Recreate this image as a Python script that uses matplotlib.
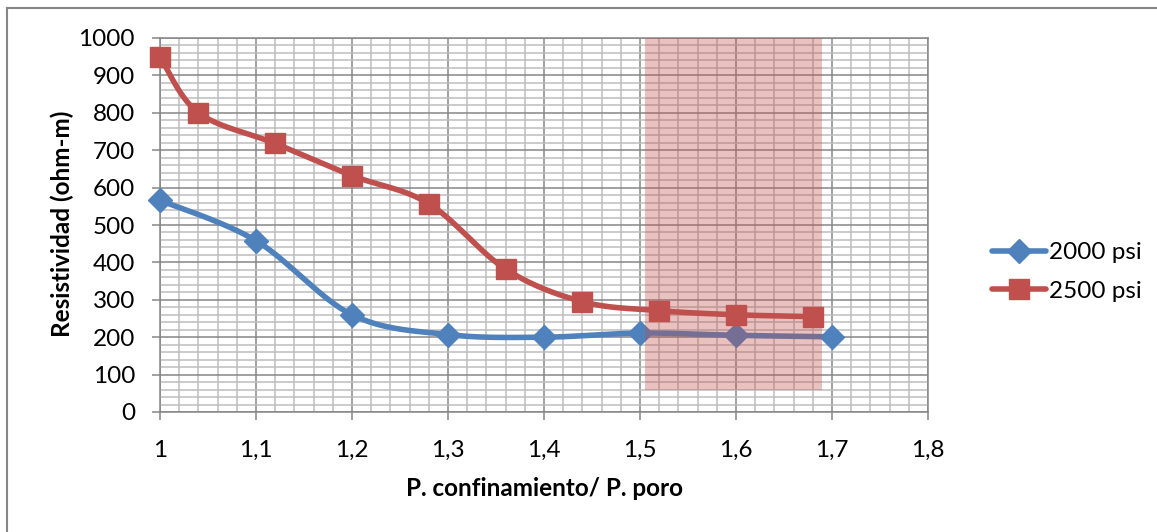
import numpy as np
import matplotlib
matplotlib.use("Agg")
import matplotlib.pyplot as plt
from matplotlib.lines import Line2D
from matplotlib.patches import Rectangle
from matplotlib.ticker import MultipleLocator, FuncFormatter

# Data: resistivity vs. confining/pore pressure ratio
x_2000 = [1.0, 1.1, 1.2, 1.3, 1.4, 1.5, 1.6, 1.7]
res_2000 = [566, 458, 260, 207, 200, 211, 205, 201]

x_2500 = [1.0, 1.04, 1.12, 1.2, 1.28, 1.36, 1.44, 1.52, 1.6, 1.68]
res_2500 = [950, 800, 718, 632, 557, 382, 295, 271, 260, 255]

series_labels = ["2000 psi", "2500 psi"]
x_label = "P. confinamiento/ P. poro"
y_label = "Resistividad (ohm-m)"

# Highlighted zone
zone_x = (1.505, 1.69)
zone_y = (60, 1000)

BLUE = "#4F81BD"
RED = "#C0504D"
MAJOR = "#868686"
MINOR = "#BDBDBD"
FONT = ["Lato", "DejaVu Sans"]
FS = 17.5

W, H = 1157, 532
fig = plt.figure(figsize=(W / 100, H / 100), dpi=100)
plt.rcParams["font.family"] = FONT

ax = fig.add_axes([160 / W, 1 - 412 / H, (928 - 160) / W, (412 - 38) / H])
ax.set_xlim(1.0, 1.8)
ax.set_ylim(0, 1000)


def fmt_x(v, pos):
    if abs(v - round(v)) < 1e-9:
        return f"{int(round(v))}"
    return f"{v:.1f}".replace(".", ",")


ax.xaxis.set_major_locator(MultipleLocator(0.1))
ax.xaxis.set_minor_locator(MultipleLocator(0.02))
ax.yaxis.set_major_locator(MultipleLocator(100))
ax.yaxis.set_minor_locator(MultipleLocator(20))
ax.xaxis.set_major_formatter(FuncFormatter(fmt_x))
ax.yaxis.set_major_formatter(FuncFormatter(lambda v, p: f"{int(round(v))}"))

ax.grid(which="minor", color=MINOR, linewidth=1.1, zorder=0)
ax.grid(which="major", color=MAJOR, linewidth=1.1, zorder=0)
ax.set_axisbelow(True)
for s in ax.spines.values():
    s.set_color(MAJOR)
    s.set_linewidth(1.1)

ax.tick_params(axis="both", which="major", direction="out", length=6, width=1.1,
               color=MAJOR, labelsize=FS, labelcolor="black")
ax.tick_params(axis="x", which="major", pad=14)
ax.tick_params(axis="y", which="major", pad=12)
ax.tick_params(which="minor", length=0)


def smooth(xs, ys, n=40):
    """Bezier smoothing through the points, computed in display space."""
    pts = ax.transData.transform(np.column_stack([xs, ys]))
    out = [pts[0]]
    t = np.linspace(0, 1, n)[1:, None]
    for i in range(len(pts) - 1):
        p0 = pts[i - 1] if i > 0 else pts[i]
        p1, p2 = pts[i], pts[i + 1]
        p3 = pts[i + 2] if i + 2 < len(pts) else pts[i + 1]
        c1 = p1 + (p2 - p0) / 6
        c2 = p2 - (p3 - p1) / 6
        seg = (1 - t) ** 3 * p1 + 3 * (1 - t) ** 2 * t * c1 + 3 * (1 - t) * t ** 2 * c2 + t ** 3 * p2
        out.extend(seg)
    return ax.transData.inverted().transform(np.array(out))


c2000 = smooth(x_2000, res_2000)
c2500 = smooth(x_2500, res_2500)
ax.plot(c2000[:, 0], c2000[:, 1], color=BLUE, lw=4, solid_capstyle="round", zorder=3, clip_on=False)
ax.plot(x_2000, res_2000, ls="none", marker="D", ms=12, color=BLUE, zorder=4, clip_on=False)
ax.plot(c2500[:, 0], c2500[:, 1], color=RED, lw=4, solid_capstyle="round", zorder=3, clip_on=False)
ax.plot(x_2500, res_2500, ls="none", marker="s", ms=14, color=RED, zorder=4, clip_on=False)

ax.add_patch(Rectangle((zone_x[0], zone_y[0]), zone_x[1] - zone_x[0], zone_y[1] - zone_y[0],
                       facecolor=RED, alpha=0.35, edgecolor="none", zorder=5))

fig.text(544 / W, 1 - 488 / H, x_label, ha="center", va="center",
         fontsize=FS, fontweight="bold", family=FONT)
fig.text(62 / W, 1 - 224 / H, y_label, ha="center", va="center", rotation=90,
         fontsize=FS, fontweight="bold", family=FONT)

handles = [
    Line2D([], [], color=BLUE, lw=4, marker="D", ms=12, solid_capstyle="round"),
    Line2D([], [], color=RED, lw=4, marker="s", ms=14, solid_capstyle="round"),
]
fig.legend(handles, series_labels, loc="center left",
           bbox_to_anchor=(980 / W, 1 - 272 / H), frameon=False,
           prop={"family": FONT, "size": FS}, handlelength=2.2,
           handletextpad=0.15, labelspacing=0.7, borderpad=0)

# Chart frame (left and top edges)
fig.add_artist(Line2D([7 / W, 7 / W], [0, 1 - 8 / H], color=MAJOR, lw=1.5, transform=fig.transFigure))
fig.add_artist(Line2D([7 / W, 1], [1 - 8 / H, 1 - 8 / H], color=MAJOR, lw=1.5, transform=fig.transFigure))

fig.savefig("out.png", dpi=100, facecolor="white")
